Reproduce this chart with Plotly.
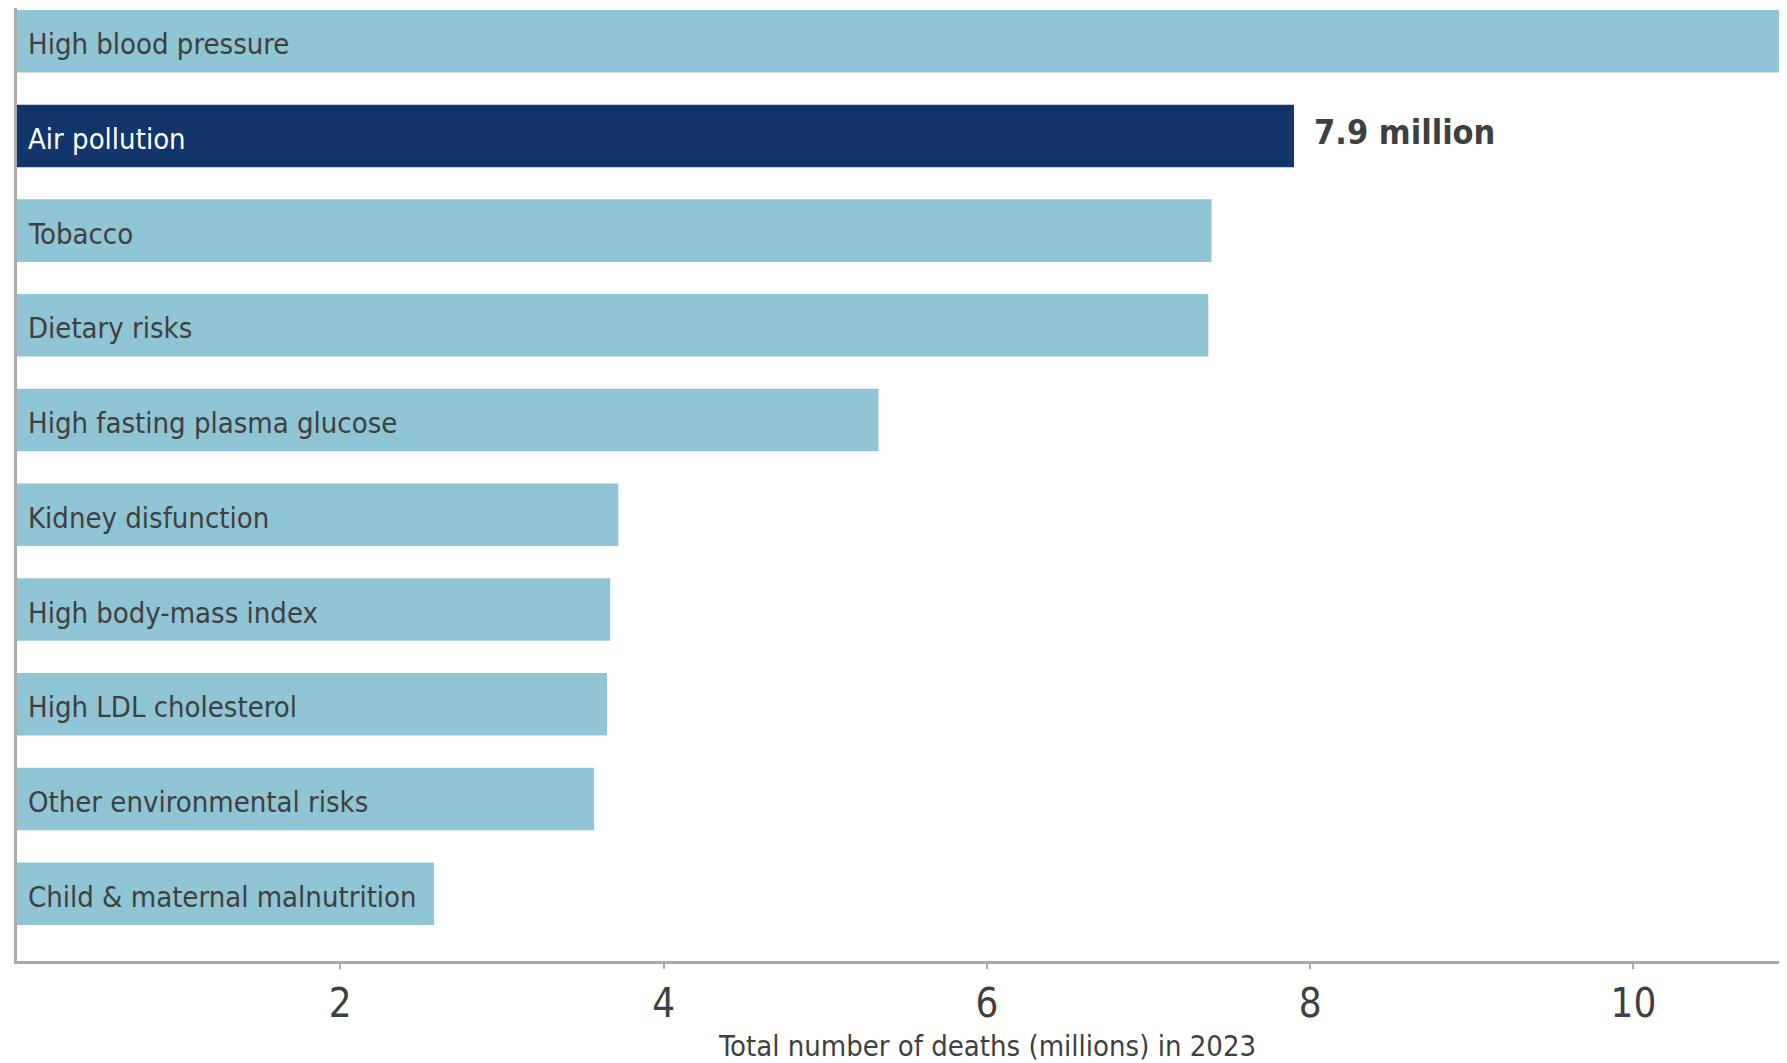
import plotly.graph_objects as go

categories = [
    "High blood pressure",
    "Air pollution",
    "Tobacco",
    "Dietary risks",
    "High fasting plasma glucose",
    "Kidney disfunction",
    "High body-mass index",
    "High LDL cholesterol",
    "Other environmental risks",
    "Child & maternal malnutrition",
]
deaths_millions = [11.1, 7.9, 7.39, 7.37, 5.33, 3.72, 3.67, 3.65, 3.57, 2.58]
highlight = "Air pollution"
tick_values = [2, 4, 6, 8, 10]
tick_labels = ["2", "4", "6", "8", "10"]
axis_title = "Total number of deaths (millions) in 2023"
axis_title_x = 6

LIGHT = "#90C5D6"
DARK = "#12356A"
TEXT = "#3f3f3f"
FONT = "DejaVu Sans Condensed, DejaVu Sans, sans-serif"

colors = [DARK if c == highlight else LIGHT for c in categories]

fig = go.Figure(
    go.Bar(
        x=deaths_millions,
        y=categories,
        orientation="h",
        marker=dict(color=colors, line=dict(width=0)),
        width=0.66,
        hoverinfo="skip",
    )
)

annotations = []
for c, v in zip(categories, deaths_millions):
    annotations.append(
        dict(
            x=0, y=c, xref="x", yref="y", text=c, showarrow=False,
            xanchor="left", yanchor="middle", xshift=9, yshift=-3,
            font=dict(family=FONT, size=29, color="white" if c == highlight else TEXT),
        )
    )
hv = deaths_millions[categories.index(highlight)]
annotations.append(
    dict(
        x=hv, y=highlight, xref="x", yref="y",
        text=f"<b>{hv:g} million</b>", showarrow=False,
        xanchor="left", yanchor="middle", xshift=18, yshift=4,
        font=dict(family=FONT, size=34, color=TEXT),
    )
)
annotations.append(
    dict(
        x=axis_title_x, y=0, xref="x", yref="paper", yshift=-85,
        text=axis_title, showarrow=False,
        xanchor="center", yanchor="middle",
        font=dict(family=FONT, size=29, color=TEXT),
    )
)

fig.update_layout(
    width=1779, height=1055,
    margin=dict(l=9, r=0, t=0, b=102),
    paper_bgcolor="white", plot_bgcolor="white",
    showlegend=False,
    annotations=annotations,
    xaxis=dict(
        range=[0, 10.95],
        tickvals=tick_values, ticktext=tick_labels,
        ticks="outside", ticklen=5, tickcolor="#aaaaaa", tickwidth=1.5,
        showline=True, linecolor="#aaaaaa", linewidth=2.5,
        showgrid=False, zeroline=False,
        tickfont=dict(family=FONT, size=40, color=TEXT),
    ),
    yaxis=dict(
        categoryorder="array", categoryarray=categories,
        range=[9.71, -0.35],
        showticklabels=False, ticks="",
        showline=True, linecolor="#aaaaaa", linewidth=2.5,
        showgrid=False, zeroline=False,
    ),
)

fig.write_html("out.html")
